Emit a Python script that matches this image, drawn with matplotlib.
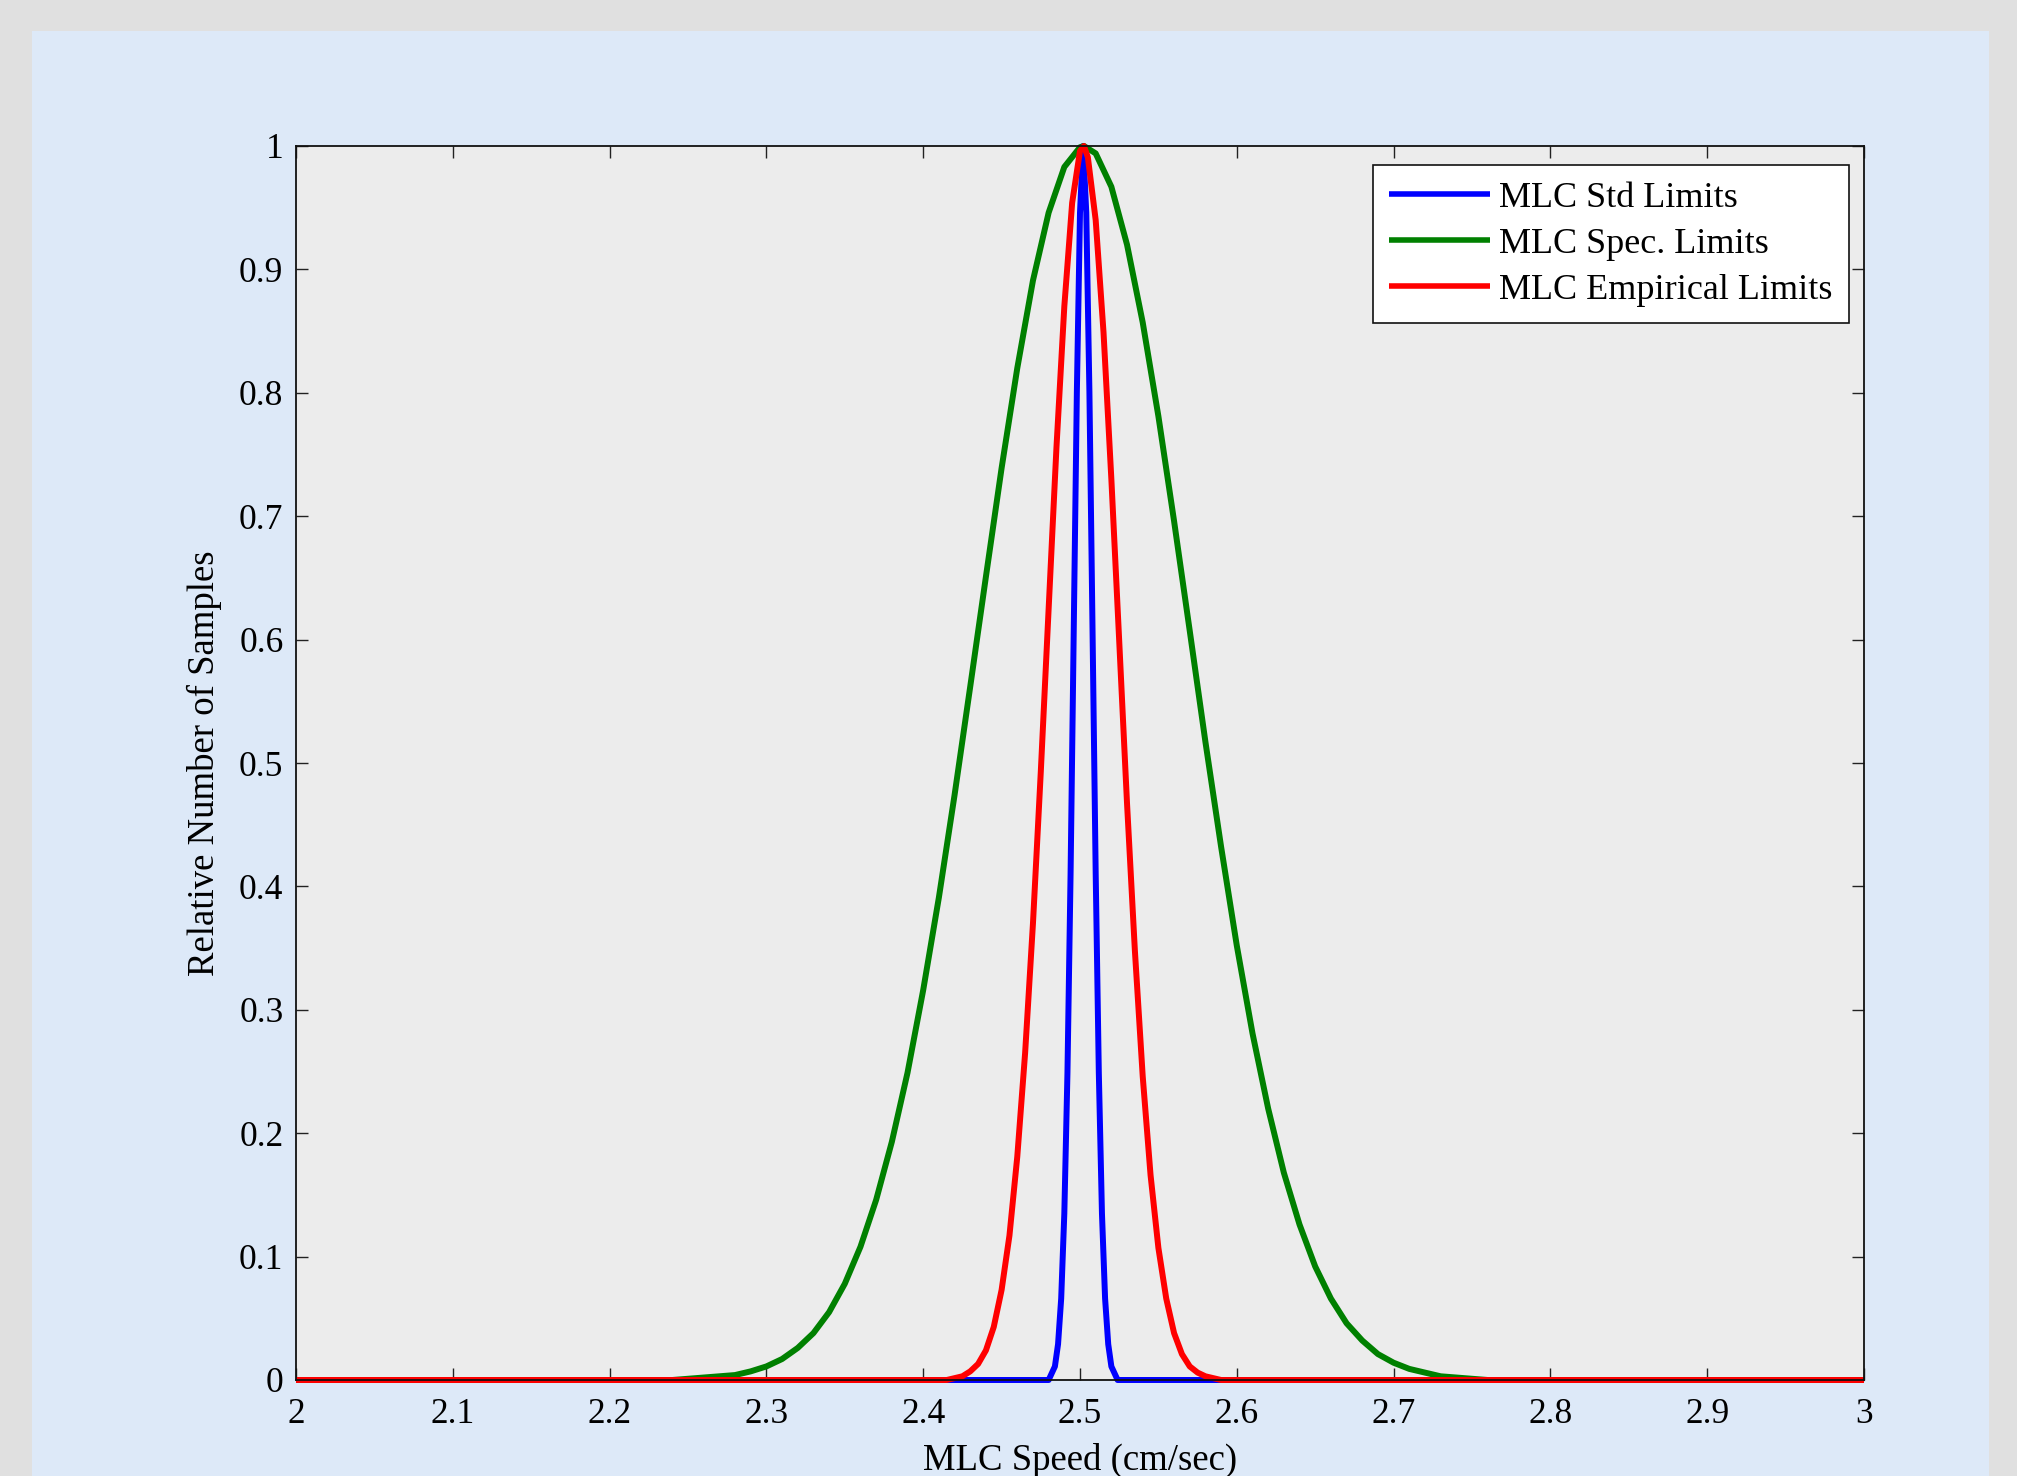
import matplotlib
matplotlib.use("Agg")
import matplotlib.pyplot as plt
from matplotlib.patches import Rectangle
from matplotlib.ticker import FuncFormatter

# ---------------- data ----------------
series_labels = ["MLC Std Limits", "MLC Spec. Limits", "MLC Empirical Limits"]

std_x = [2.0, 2.480, 2.484, 2.486, 2.488, 2.490, 2.492, 2.494, 2.496, 2.498, 2.500,
         2.502, 2.504, 2.506, 2.508, 2.510, 2.512, 2.514, 2.516, 2.518, 2.520, 2.524, 3.0]
std_y = [0.0, 0.0, 0.011, 0.029, 0.066, 0.135, 0.249, 0.411, 0.607, 0.801, 0.946,
         1.000, 0.946, 0.801, 0.607, 0.411, 0.249, 0.135, 0.066, 0.029, 0.011, 0.0, 0.0]

spec_x = [2.0, 2.24, 2.25, 2.26, 2.27, 2.28, 2.29, 2.30, 2.31, 2.32, 2.33, 2.34,
          2.35, 2.36, 2.37, 2.38, 2.39, 2.40, 2.41, 2.42, 2.43, 2.44,
          2.45, 2.46, 2.47, 2.48, 2.49, 2.50, 2.5025, 2.51, 2.52, 2.53, 2.54,
          2.55, 2.56, 2.57, 2.58, 2.59, 2.60, 2.61, 2.62, 2.63, 2.64,
          2.65, 2.66, 2.67, 2.68, 2.69, 2.70, 2.71, 2.72, 2.73, 2.74, 2.75, 2.76, 3.0]
spec_y = [0.0, 0.0, 0.001, 0.002, 0.003, 0.004, 0.007, 0.011, 0.017, 0.026, 0.038, 0.055,
          0.078, 0.108, 0.146, 0.193, 0.249, 0.316, 0.391, 0.474, 0.562, 0.651,
          0.739, 0.820, 0.891, 0.946, 0.983, 0.999, 1.000, 0.994, 0.967, 0.920, 0.857,
          0.781, 0.696, 0.607, 0.517, 0.432, 0.352, 0.281, 0.220, 0.168, 0.126,
          0.092, 0.066, 0.046, 0.032, 0.021, 0.014, 0.009, 0.006, 0.003, 0.002, 0.001, 0.0, 0.0]

emp_x = [2.0, 2.415, 2.425, 2.43, 2.435, 2.44, 2.445, 2.45, 2.455, 2.46, 2.465, 2.47,
         2.475, 2.48, 2.485, 2.49, 2.495, 2.50, 2.5025, 2.505, 2.51, 2.515,
         2.52, 2.525, 2.53, 2.535, 2.54, 2.545, 2.55, 2.555, 2.56, 2.565,
         2.57, 2.575, 2.58, 2.59, 3.0]
emp_y = [0.0, 0.0, 0.003, 0.007, 0.013, 0.024, 0.043, 0.073, 0.117, 0.181, 0.265, 0.370,
         0.493, 0.625, 0.756, 0.870, 0.954, 0.996, 1.000, 0.991, 0.940, 0.849,
         0.730, 0.599, 0.467, 0.348, 0.246, 0.166, 0.107, 0.066, 0.038, 0.021,
         0.011, 0.006, 0.003, 0.0, 0.0]

x_ticks = [2.0, 2.1, 2.2, 2.3, 2.4, 2.5, 2.6, 2.7, 2.8, 2.9, 3.0]
y_ticks = [0, 0.1, 0.2, 0.3, 0.4, 0.5, 0.6, 0.7, 0.8, 0.9, 1.0]
x_label = "MLC Speed (cm/sec)"
y_label = "Relative Number of Samples"

# ---------------- figure ----------------
plt.rcParams["font.family"] = ["Liberation Serif", "DejaVu Serif"]
W, H = 2017, 1476
fig = plt.figure(figsize=(W / 100, H / 100), dpi=100, facecolor="#e0e0e0")

# light blue panel behind the axes
panel = Rectangle((32 / W, 0), (1989 - 32) / W, (H - 31) / H,
                  transform=fig.transFigure, facecolor="#dde9f8",
                  edgecolor="none", zorder=-10)
fig.add_artist(panel)

ax = fig.add_axes([296 / W, (H - 1380) / H, (1864 - 296) / W, (1380 - 146) / H])
ax.set_zorder(1)
ax.set_facecolor("#ececec")

lw = 4.3
kw = dict(linewidth=lw, clip_on=False, solid_joinstyle="round", solid_capstyle="butt")
ax.plot(std_x, std_y, color=(0, 0, 1), label=series_labels[0], **kw)
ax.plot(spec_x, spec_y, color=(0, 0.5, 0), label=series_labels[1], **kw)
ax.plot(emp_x, emp_y, color=(1, 0, 0), label=series_labels[2], **kw)

ax.set_xlim(2, 3)
ax.set_ylim(0, 1)
ax.set_xticks(x_ticks)
ax.set_yticks(y_ticks)
fmt = FuncFormatter(lambda v, p: "%g" % round(v, 2))
ax.xaxis.set_major_formatter(fmt)
ax.yaxis.set_major_formatter(fmt)

fs_tick = 25.5
fs_lab = 26.5
fs_leg = 26
ax.tick_params(axis="both", which="major", direction="in", length=8.5, width=1.0,
               top=True, right=True, labelsize=fs_tick, color="#222222")
ax.tick_params(axis="x", pad=13)
ax.tick_params(axis="y", pad=9)
for s in ax.spines.values():
    s.set_linewidth(1.3)
    s.set_color("#111111")

ax.set_xlabel(x_label, fontsize=fs_lab)
ax.set_ylabel(y_label, fontsize=fs_lab)
ax.xaxis.set_label_coords(0.5, -0.051)
ax.yaxis.set_label_coords(-0.047, 0.5)

leg = ax.legend(loc="upper right", bbox_to_anchor=(0.9904, 0.9846), borderaxespad=0,
                fontsize=fs_leg, frameon=True, fancybox=False, shadow=False, framealpha=1,
                handlelength=2.8, handletextpad=0.25, labelspacing=0.36, borderpad=0.45)
leg.get_frame().set_edgecolor("#111111")
leg.get_frame().set_linewidth(1.2)
for h in leg.get_lines():
    h.set_linewidth(4.0)

fig.savefig("out.png", dpi=100, facecolor=fig.get_facecolor())
